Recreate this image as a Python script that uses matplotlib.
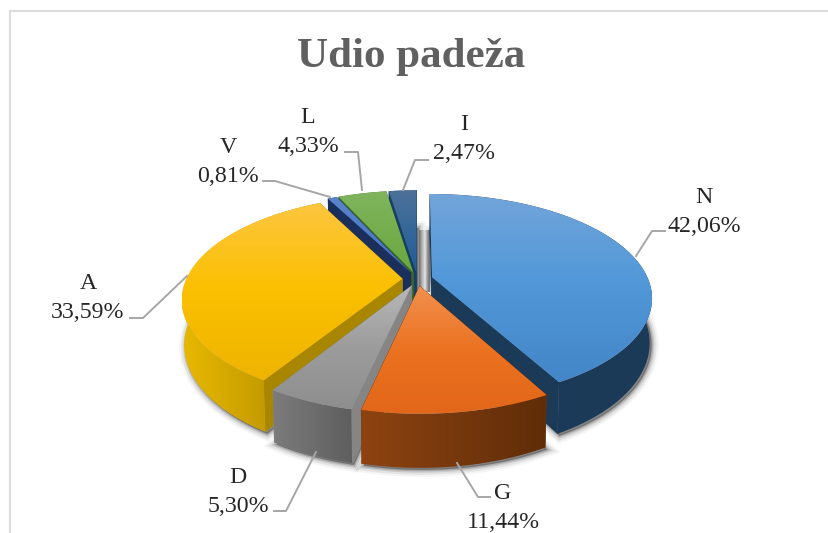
import numpy as np
import matplotlib
matplotlib.use('Agg')
import matplotlib.pyplot as plt
from matplotlib.colors import LinearSegmentedColormap
from matplotlib.patches import Polygon

plt.rcParams['font.family'] = ['Liberation Serif', 'DejaVu Serif']

names = ['N', 'G', 'D', 'A', 'V', 'L', 'I']
shares = [42.06, 11.44, 5.30, 33.59, 0.81, 4.33, 2.47]
title = 'Udio padeža'

# gradient colours per slice: top face, outer wall, cut wall
top_cols = {'N': ['#72a5da', '#5097d8', '#4486c8'], 'G': ['#f2904f', '#eb7220', '#e2671a'],
            'D': ['#b8b8b8', '#9c9c9c', '#8e8e8e'], 'A': ['#fdc640', '#fbc000', '#eeb400'],
            'V': ['#5a85cc', '#4472c4'], 'L': ['#80b45e', '#69a83e'], 'I': ['#4d7299', '#1f5c99']}
wall_cols = {'N': ['#1d3c5b', '#1b3a58'], 'G': ['#8e4311', '#5f2d08'], 'D': ['#7c7c7c', '#5e5e5e'],
             'A': ['#e8b800', '#ad8900'], 'V': ['#1a2f5c', '#1a2f5c'], 'L': ['#3c6a24', '#3c6a24'],
             'I': ['#173f66', '#173f66']}
cut_cols = {'N': '#1b3a58', 'G': '#6d3409', 'D': '#858585', 'A': '#a98600',
            'V': '#1a2f5c', 'L': '#3c6a24', 'I': '#173f66'}

# label placement: text centre, then leader line from slice rim to the text
label_xy = {'N': (704, 212), 'G': (503, 508), 'D': (238, 492), 'A': (88, 298),
            'V': (228, 162), 'L': (308, 132), 'I': (464, 139)}
leaders = {'N': [(636, 256), (652, 231), (665, 231)], 'G': [(457, 463), (478, 497), (490, 497)],
           'D': [(316, 452), (286, 511), (274, 511)], 'A': [(187, 276), (143, 318), (130, 318)],
           'V': [(330, 197), (275, 181), (263, 181)], 'L': [(362, 190), (358, 152), (345, 152)],
           'I': [(403, 190), (415, 160), (428, 160)]}

cx, cy = 417.5, 279
rx, ry = 216, 100
persp = 0.193
explode = 0.07
depth = 43


def project(u, v, lower=False):
    den = 1 + persp * v
    x = rx * u / den
    y = -ry * v / den
    if lower:
        return cx + 0.99 * x, cy + y + depth / den
    return cx + x, cy + y


def slice_pts(a1, a2, lower=False):
    mid = np.radians((a1 + a2) / 2)
    ou, ov = explode * np.sin(mid), explode * np.cos(mid)
    th = np.radians(np.linspace(a1, a2, 80))
    rim = [project(ou + np.sin(t), ov + np.cos(t), lower) for t in th]
    return project(ou, ov, lower), rim


def grad_fill(ax, verts, cols, horizontal=False, zorder=2):
    verts = np.array(verts)
    patch = Polygon(verts, closed=True, fc='none', ec='none', zorder=zorder)
    ax.add_patch(patch)
    cmap = LinearSegmentedColormap.from_list('g', cols)
    ramp = np.linspace(0, 1, 256)
    img = ramp[None, :] if horizontal else ramp[:, None]
    xs, ys = verts[:, 0], verts[:, 1]
    im = ax.imshow(img, cmap=cmap, aspect='auto', zorder=zorder,
                   extent=(xs.min(), xs.max(), ys.max(), ys.min()))
    im.set_clip_path(patch)


fig = plt.figure(figsize=(8.29, 5.33), dpi=100)
ax = fig.add_axes([0, 0, 1, 1])
ax.axis('off')

edges = np.concatenate([[0], np.cumsum(shares) / np.sum(shares) * 360])
angles = {n: (edges[i], edges[i + 1]) for i, n in enumerate(names)}

# soft shadow below the walls
for lw, al in [(10, 0.04), (7, 0.07), (4, 0.11), (2, 0.15)]:
    for n in names:
        a1, a2 = angles[n]
        low_apex, low_rim = slice_pts(a1, a2, lower=True)
        shape = np.array(low_rim + [low_apex])
        ax.add_patch(Polygon(shape + [2, 2], closed=True, fc='black', ec='black',
                             lw=lw, alpha=al, zorder=1))

# gap between the back slices and N
_, i_rim = slice_pts(*angles['I'])
n_apex, n_rim = slice_pts(*angles['N'])
gap = [(i_rim[-1][0] + 2, i_rim[-1][1] + 40), (n_rim[0][0], i_rim[-1][1] + 40),
       (n_rim[0][0], n_apex[1] + 15), (i_rim[-1][0] + 2, n_apex[1] + 15)]
grad_fill(ax, gap, ['#6f6f6f', '#b0b0b0', '#e4e4e4', '#8a8a8a', '#5c5c5c'], horizontal=True, zorder=1.5)

# back to front
z = 2
for n in ['I', 'L', 'V', 'N', 'A', 'D', 'G']:
    a1, a2 = angles[n]
    top_apex, top_rim = slice_pts(a1, a2)
    low_apex, low_rim = slice_pts(a1, a2, lower=True)
    # cut walls
    for t_r, l_r in [(top_rim[0], low_rim[0]), (top_rim[-1], low_rim[-1])]:
        ax.add_patch(Polygon([top_apex, t_r, l_r, low_apex], closed=True,
                             fc=cut_cols[n], ec=cut_cols[n], lw=0.3, zorder=z))
    z += 1
    # outer wall
    grad_fill(ax, top_rim + low_rim[::-1], wall_cols[n], horizontal=True, zorder=z)
    z += 1
    # top face
    grad_fill(ax, [top_apex] + top_rim, top_cols[n], zorder=z)
    z += 1

ax.set_xlim(0, 829)
ax.set_ylim(533, 0)

# chart frame
ax.plot([10, 10, 829], [533, 11, 11], color='#dcdcdc', lw=1.5, solid_joinstyle='miter', zorder=z)

ax.text(411, 57, title, fontsize=31, fontweight='bold', color='#606060',
        ha='center', va='center', zorder=z)

for n, v in zip(names, shares):
    pts = np.array(leaders[n])
    ax.plot(pts[:, 0], pts[:, 1], color='#a6a6a6', lw=1.4, zorder=z)
    x, y = label_xy[n]
    ax.text(x, y, n + '\n' + f'{v:.2f}'.replace('.', ',') + '%', fontsize=17.2, color='#262626',
            ha='center', va='center', linespacing=1.47, zorder=z + 1)

fig.savefig('out.png', dpi=100)
